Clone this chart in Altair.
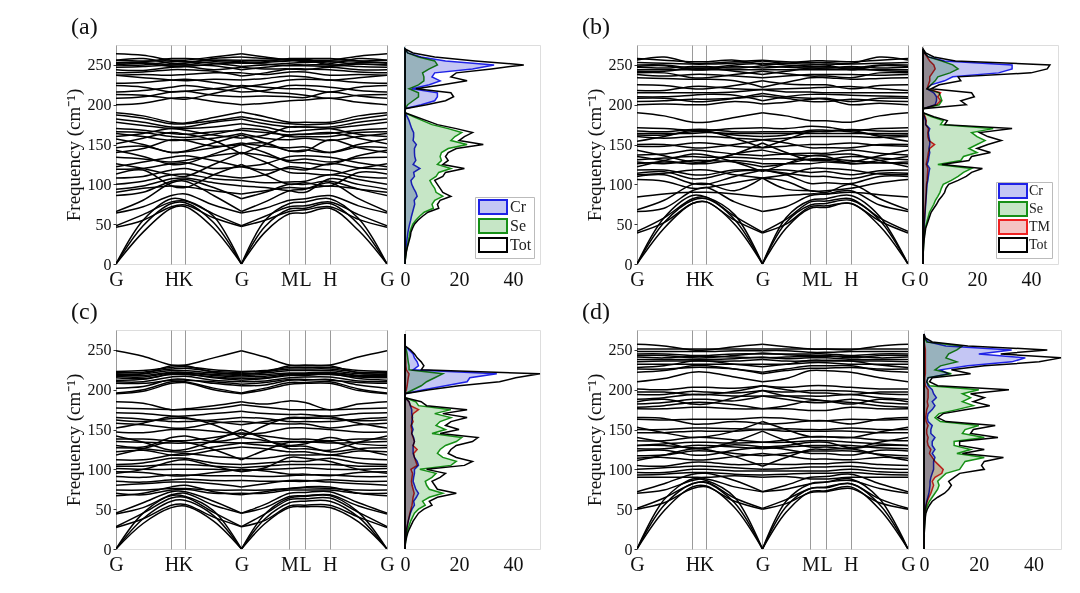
import altair as alt
import pandas as pd

FONT = "Liberation Serif"

# k-path sample positions (G, mid, H, K, mid, G, mid, M, L, H, mid, G)
K_POS = [0.0, 0.1, 0.2045, 0.256, 0.36, 0.463, 0.55, 0.64, 0.698, 0.789, 0.895, 1.0]
TICK_POS = [0.0, 0.2045, 0.256, 0.463, 0.64, 0.698, 0.789, 1.0]
TICK_NAMES = ["G", "H", "K", "G", "M", "L", "H", "G"]
FREQ_TICKS = [0, 50, 100, 150, 200, 250]
DOS_TICKS = [0, 20, 40]
DOS_FREQ = list(range(0, 275, 5))

# ---------------- phonon bands (cm-1) ----------------
bands_a = [
    [0, 40, 70, 72, 45, 0, 40, 63, 64, 70, 42, 0],
    [0, 48, 76, 77, 52, 0, 47, 69, 70, 76, 50, 0],
    [0, 55, 82, 80, 60, 0, 55, 76, 78, 82, 57, 0],
    [46, 55, 72, 74, 58, 47, 55, 66, 68, 72, 56, 46],
    [48, 62, 78, 79, 63, 48, 60, 72, 73, 78, 62, 48],
    [64, 72, 86, 88, 74, 64, 70, 80, 82, 86, 73, 64],
    [66, 80, 102, 104, 86, 66, 78, 92, 94, 102, 82, 66],
    [86, 90, 104, 106, 96, 82, 90, 100, 100, 104, 94, 86],
    [94, 98, 107, 108, 102, 98, 96, 92, 90, 107, 100, 94],
    [100, 104, 112, 113, 107, 105, 102, 103, 104, 112, 106, 100],
    [113, 118, 98, 96, 112, 125, 112, 100, 102, 98, 115, 113],
    [119, 120, 126, 127, 120, 122, 118, 120, 118, 126, 121, 119],
    [126, 120, 112, 110, 125, 140, 128, 115, 114, 112, 120, 126],
    [134, 132, 128, 130, 136, 140, 136, 130, 132, 128, 133, 134],
    [143, 135, 125, 126, 138, 150, 140, 128, 127, 125, 136, 143],
    [151, 158, 165, 163, 155, 138, 150, 162, 163, 165, 158, 151],
    [157, 150, 140, 142, 152, 162, 152, 142, 143, 140, 150, 157],
    [164, 160, 155, 156, 158, 164, 158, 156, 158, 155, 160, 164],
    [170, 168, 164, 163, 166, 168, 165, 162, 163, 164, 168, 170],
    [178, 174, 170, 170, 172, 176, 172, 166, 168, 170, 174, 178],
    [187, 183, 176, 176, 180, 185, 180, 176, 175, 176, 182, 187],
    [190, 186, 178, 177, 184, 191, 185, 178, 178, 178, 186, 190],
    [140, 145, 156, 155, 148, 150, 152, 142, 142, 156, 146, 140],
    [122, 128, 134, 136, 130, 122, 126, 135, 136, 134, 127, 122],
    [160, 164, 170, 168, 162, 158, 162, 172, 172, 170, 163, 160],
    [90, 95, 98, 97, 92, 88, 92, 96, 95, 98, 94, 90],
    [108, 110, 118, 120, 112, 108, 112, 122, 120, 118, 110, 108],
    [146, 148, 140, 141, 146, 152, 148, 146, 147, 140, 147, 146],
    [166, 165, 160, 159, 163, 170, 168, 160, 160, 160, 165, 166],
    [182, 178, 172, 172, 178, 182, 176, 172, 172, 172, 178, 182],
    [200, 202, 208, 209, 204, 200, 202, 205, 206, 208, 203, 200],
    [208, 210, 216, 217, 212, 210, 211, 210, 209, 216, 211, 208],
    [213, 212, 208, 207, 214, 222, 216, 214, 212, 208, 212, 213],
    [224, 222, 216, 217, 220, 224, 222, 220, 220, 216, 222, 224],
    [227, 228, 231, 232, 228, 222, 226, 231, 232, 231, 228, 227],
    [237, 234, 231, 230, 232, 231, 233, 236, 235, 231, 234, 237],
    [237, 238, 237, 238, 240, 240, 238, 241, 241, 237, 238, 237],
    [244, 243, 247, 248, 244, 247, 245, 245, 244, 247, 244, 244],
    [247, 248, 250, 250, 249, 244, 247, 250, 250, 250, 248, 247],
    [250, 250, 254, 254, 252, 248, 250, 252, 253, 254, 251, 250],
    [253, 253, 250, 250, 254, 252, 253, 255, 256, 250, 253, 253],
    [256, 255, 255, 254, 256, 256, 256, 256, 254, 255, 255, 256],
    [256, 258, 252, 252, 258, 260, 258, 257, 257, 252, 258, 256],
    [264, 262, 256, 256, 260, 264, 260, 256, 256, 256, 261, 264],
    [252, 254, 258, 258, 256, 254, 254, 258, 258, 258, 255, 252],
    [216, 218, 222, 224, 220, 216, 218, 224, 224, 222, 218, 216],
    [240, 241, 244, 244, 242, 236, 240, 245, 245, 244, 241, 240],
    [250, 252, 248, 248, 251, 253, 251, 249, 249, 248, 251, 250],
]

bands_b = [
    [0, 45, 76, 78, 50, 0, 45, 70, 71, 76, 48, 0],
    [0, 52, 80, 82, 56, 0, 52, 74, 76, 80, 55, 0],
    [0, 58, 86, 84, 62, 0, 58, 80, 82, 86, 60, 0],
    [39, 52, 76, 78, 55, 39, 50, 72, 73, 76, 54, 39],
    [41, 58, 82, 84, 60, 40, 56, 78, 79, 82, 58, 41],
    [66, 70, 92, 96, 78, 66, 72, 86, 88, 92, 74, 66],
    [68, 80, 100, 101, 92, 108, 94, 92, 90, 100, 82, 68],
    [106, 104, 95, 96, 102, 108, 104, 92, 92, 95, 102, 106],
    [110, 112, 101, 100, 110, 118, 112, 101, 102, 101, 110, 110],
    [114, 116, 107, 108, 116, 118, 114, 110, 110, 107, 114, 114],
    [118, 118, 112, 112, 118, 118, 118, 115, 116, 112, 117, 118],
    [122, 130, 138, 137, 128, 116, 126, 136, 137, 138, 130, 122],
    [126, 128, 126, 126, 130, 126, 126, 126, 128, 126, 127, 126],
    [131, 133, 135, 134, 134, 132, 132, 131, 131, 135, 133, 131],
    [137, 138, 143, 142, 138, 136, 138, 139, 139, 143, 139, 137],
    [143, 136, 128, 129, 138, 152, 140, 130, 130, 128, 136, 143],
    [148, 148, 152, 152, 148, 146, 148, 150, 150, 152, 149, 148],
    [154, 160, 168, 167, 158, 146, 156, 166, 166, 168, 160, 154],
    [160, 158, 160, 160, 158, 156, 158, 160, 160, 160, 159, 160],
    [164, 164, 164, 165, 164, 164, 164, 164, 164, 164, 164, 164],
    [167, 166, 169, 169, 166, 166, 166, 166, 167, 169, 167, 167],
    [171, 170, 168, 168, 170, 171, 170, 173, 172, 168, 170, 171],
    [190, 186, 178, 178, 184, 190, 186, 180, 180, 178, 186, 190],
    [135, 130, 126, 128, 138, 143, 138, 136, 135, 126, 130, 135],
    [84, 88, 90, 90, 88, 84, 86, 88, 88, 90, 87, 84],
    [112, 114, 118, 118, 112, 108, 112, 120, 120, 118, 113, 112],
    [128, 126, 130, 130, 128, 122, 126, 132, 132, 130, 127, 128],
    [150, 150, 146, 146, 150, 156, 152, 146, 146, 146, 150, 150],
    [162, 162, 166, 166, 162, 160, 162, 168, 168, 166, 162, 162],
    [200, 201, 200, 200, 204, 201, 203, 207, 207, 200, 202, 200],
    [204, 205, 207, 207, 208, 211, 208, 204, 204, 207, 205, 204],
    [210, 210, 212, 213, 212, 205, 210, 213, 213, 212, 211, 210],
    [215, 215, 215, 215, 216, 219, 216, 216, 215, 215, 215, 215],
    [218, 218, 223, 223, 220, 219, 220, 221, 222, 223, 220, 218],
    [225, 224, 220, 220, 224, 230, 226, 225, 225, 220, 224, 225],
    [234, 233, 232, 232, 230, 222, 228, 234, 234, 232, 233, 234],
    [238, 236, 238, 238, 236, 234, 236, 238, 238, 238, 237, 238],
    [240, 240, 234, 234, 238, 242, 239, 236, 236, 234, 240, 240],
    [244, 244, 244, 244, 244, 244, 244, 244, 244, 244, 244, 244],
    [247, 246, 248, 248, 246, 249, 247, 246, 246, 248, 246, 247],
    [250, 250, 246, 246, 250, 252, 250, 248, 248, 246, 250, 250],
    [253, 252, 251, 251, 252, 255, 252, 251, 251, 251, 252, 253],
    [256, 260, 252, 252, 254, 256, 254, 253, 253, 252, 260, 256],
    [258, 256, 254, 254, 256, 250, 252, 255, 255, 254, 256, 258],
    [208, 208, 204, 204, 208, 214, 210, 208, 208, 204, 208, 208],
    [242, 242, 246, 246, 242, 238, 242, 246, 246, 246, 243, 242],
    [248, 249, 244, 244, 248, 246, 248, 250, 250, 244, 249, 248],
]

bands_c = [
    [0, 32, 52, 54, 35, 0, 32, 52, 53, 52, 34, 0],
    [0, 38, 60, 61, 42, 0, 38, 58, 60, 60, 40, 0],
    [0, 45, 67, 66, 48, 0, 44, 64, 66, 67, 46, 0],
    [27, 38, 55, 56, 40, 28, 36, 54, 55, 55, 40, 27],
    [28, 45, 64, 65, 46, 28, 44, 62, 63, 64, 46, 28],
    [44, 52, 68, 70, 55, 45, 52, 66, 67, 68, 54, 44],
    [45, 58, 72, 72, 60, 45, 56, 70, 71, 72, 58, 45],
    [70, 68, 74, 75, 70, 70, 70, 74, 74, 74, 70, 70],
    [74, 74, 76, 76, 74, 74, 74, 76, 77, 76, 74, 74],
    [67, 70, 78, 80, 72, 68, 72, 76, 78, 78, 70, 67],
    [85, 84, 87, 88, 86, 86, 85, 85, 85, 87, 85, 85],
    [91, 90, 93, 93, 92, 92, 91, 92, 93, 93, 91, 91],
    [101, 100, 100, 100, 100, 98, 100, 101, 102, 100, 100, 101],
    [104, 104, 106, 106, 104, 102, 104, 106, 106, 106, 104, 104],
    [106, 108, 114, 114, 108, 106, 108, 110, 110, 114, 108, 106],
    [112, 112, 118, 120, 116, 114, 114, 118, 118, 118, 114, 112],
    [118, 126, 135, 134, 125, 112, 124, 134, 134, 135, 126, 118],
    [127, 126, 122, 122, 128, 133, 130, 129, 129, 122, 126, 127],
    [135, 134, 133, 133, 134, 133, 134, 135, 135, 133, 134, 135],
    [142, 134, 124, 125, 136, 150, 138, 126, 126, 124, 134, 142],
    [152, 158, 166, 165, 156, 140, 155, 165, 165, 166, 158, 152],
    [158, 156, 152, 152, 158, 160, 158, 157, 157, 152, 156, 158],
    [165, 163, 160, 160, 162, 165, 164, 160, 160, 160, 163, 165],
    [171, 170, 167, 167, 170, 173, 170, 169, 169, 167, 170, 171],
    [177, 176, 175, 175, 176, 181, 178, 175, 175, 175, 176, 177],
    [185, 183, 175, 176, 180, 185, 182, 186, 184, 175, 182, 185],
    [95, 100, 110, 112, 104, 97, 102, 115, 114, 110, 100, 95],
    [130, 128, 140, 142, 135, 140, 136, 130, 132, 140, 132, 130],
    [80, 82, 84, 84, 82, 78, 82, 86, 86, 84, 82, 80],
    [97, 96, 92, 92, 96, 100, 98, 94, 94, 92, 96, 97],
    [122, 124, 118, 118, 124, 128, 126, 122, 122, 118, 123, 122],
    [138, 138, 136, 136, 140, 146, 142, 138, 138, 136, 138, 138],
    [147, 146, 150, 150, 148, 144, 146, 152, 152, 150, 147, 147],
    [162, 160, 164, 164, 160, 156, 160, 164, 164, 164, 161, 162],
    [195, 198, 208, 209, 200, 195, 200, 207, 208, 208, 199, 195],
    [196, 200, 210, 210, 202, 196, 202, 209, 209, 210, 201, 196],
    [202, 204, 213, 213, 208, 205, 206, 212, 212, 213, 206, 202],
    [210, 210, 216, 217, 212, 210, 211, 215, 216, 216, 211, 210],
    [215, 214, 219, 219, 216, 214, 215, 219, 219, 219, 216, 215],
    [218, 218, 222, 222, 219, 218, 219, 221, 221, 222, 218, 218],
    [220, 220, 224, 224, 221, 220, 221, 224, 224, 224, 220, 220],
    [222, 222, 226, 227, 223, 222, 223, 226, 226, 226, 222, 222],
    [223, 224, 228, 229, 225, 223, 224, 228, 228, 228, 224, 223],
    [219, 220, 230, 230, 222, 219, 222, 230, 230, 230, 221, 219],
    [249, 242, 231, 231, 240, 249, 241, 231, 231, 231, 241, 249],
    [212, 213, 220, 220, 215, 212, 214, 218, 218, 220, 214, 212],
    [217, 216, 221, 221, 218, 216, 217, 220, 220, 221, 217, 217],
    [208, 208, 212, 212, 210, 207, 209, 213, 213, 212, 209, 208],
]

bands_d = [
    [0, 48, 78, 79, 52, 0, 46, 72, 73, 78, 50, 0],
    [0, 55, 82, 83, 58, 0, 53, 76, 77, 82, 56, 0],
    [0, 62, 88, 86, 65, 0, 60, 82, 84, 88, 63, 0],
    [50, 58, 76, 78, 60, 50, 57, 71, 72, 76, 58, 50],
    [51, 64, 82, 84, 64, 51, 62, 76, 78, 82, 63, 51],
    [70, 74, 86, 88, 78, 72, 75, 82, 84, 86, 76, 70],
    [72, 82, 94, 95, 86, 72, 80, 90, 91, 94, 82, 72],
    [90, 90, 90, 90, 92, 90, 91, 88, 88, 90, 90, 90],
    [96, 96, 100, 100, 98, 98, 98, 98, 98, 100, 97, 96],
    [105, 104, 109, 109, 106, 107, 106, 107, 107, 109, 106, 105],
    [111, 118, 126, 125, 116, 104, 115, 125, 125, 126, 118, 111],
    [117, 118, 123, 123, 120, 117, 120, 123, 123, 123, 119, 117],
    [123, 124, 118, 118, 124, 128, 125, 120, 120, 118, 124, 123],
    [130, 130, 127, 127, 131, 128, 130, 134, 134, 127, 130, 130],
    [130, 132, 134, 134, 133, 134, 134, 136, 136, 134, 132, 130],
    [140, 134, 126, 127, 135, 148, 136, 128, 128, 126, 134, 140],
    [146, 146, 148, 148, 148, 150, 148, 148, 148, 148, 146, 146],
    [153, 146, 140, 141, 148, 160, 150, 141, 141, 140, 147, 153],
    [163, 162, 163, 163, 163, 165, 164, 161, 161, 163, 162, 163],
    [176, 176, 178, 178, 176, 176, 176, 174, 174, 178, 176, 176],
    [182, 184, 188, 188, 186, 192, 188, 184, 184, 188, 184, 182],
    [188, 190, 194, 194, 192, 192, 192, 192, 192, 194, 190, 188],
    [194, 194, 198, 197, 196, 199, 197, 199, 199, 198, 195, 194],
    [201, 200, 203, 203, 202, 205, 203, 205, 205, 203, 201, 201],
    [185, 188, 182, 182, 190, 199, 192, 188, 186, 182, 188, 185],
    [165, 164, 157, 157, 160, 157, 158, 161, 161, 157, 163, 165],
    [93, 94, 96, 96, 94, 93, 94, 95, 95, 96, 94, 93],
    [100, 102, 104, 104, 102, 100, 101, 103, 103, 104, 101, 100],
    [114, 115, 112, 112, 116, 120, 117, 113, 113, 112, 115, 114],
    [126, 126, 130, 130, 128, 126, 128, 130, 130, 130, 127, 126],
    [136, 136, 140, 140, 137, 134, 137, 141, 141, 140, 137, 136],
    [150, 150, 152, 152, 151, 150, 151, 150, 150, 152, 150, 150],
    [178, 180, 184, 184, 181, 176, 180, 186, 186, 184, 180, 178],
    [197, 197, 194, 194, 198, 205, 200, 196, 196, 194, 197, 197],
    [210, 214, 222, 222, 216, 210, 214, 224, 224, 222, 215, 210],
    [226, 226, 228, 228, 226, 220, 224, 227, 227, 228, 226, 226],
    [232, 232, 232, 232, 232, 232, 232, 234, 234, 232, 232, 232],
    [235, 236, 236, 236, 236, 238, 236, 236, 236, 236, 236, 235],
    [238, 238, 238, 238, 239, 241, 239, 240, 240, 238, 238, 238],
    [241, 240, 242, 242, 241, 240, 241, 242, 242, 242, 240, 241],
    [245, 245, 243, 243, 245, 245, 245, 245, 245, 243, 245, 245],
    [248, 248, 248, 248, 249, 249, 249, 247, 247, 248, 248, 248],
    [251, 251, 251, 251, 251, 251, 251, 251, 251, 251, 251, 251],
    [257, 255, 250, 250, 254, 257, 254, 251, 251, 250, 255, 257],
    [228, 230, 236, 236, 232, 229, 232, 237, 237, 236, 231, 228],
    [243, 243, 240, 240, 243, 246, 244, 243, 243, 240, 243, 243],
    [222, 224, 230, 230, 226, 222, 226, 230, 230, 230, 224, 222],
]

# ---------------- projected DOS (freq grid 0..270 step 5) ----------------
tot_a = [0, .1, .3, .5, .8, 1.2, 1.6, 2, 2.2, 2.8, 3.5,
         4.8, 6.5, 8.5, 12.5, 12, 13, 17, 14, 13, 12, 11,
         14, 15, 22, 14, 16, 15, 16, 19, 29, 20, 22,
         25, 19, 12, 8, 4, 0, 0, 8, 15, 18, 17,
         4, 14, 23, 17, 19, 32, 44, 26, 11, 3, 0]
se_a = [0, .1, .25, .4, .7, 1, 1.3, 1.6, 1.8, 2.3, 2.9,
        4, 5.4, 7.1, 10.5, 10, 11, 14, 11.5, 11, 10, 9.2,
        11.5, 12.5, 17, 12, 13.5, 13, 13.5, 16, 23, 17, 18.5,
        21, 16, 10, 6.5, 3, 0, 0, 1, 3, 5, 5,
        1.5, 5, 7, 7, 6.5, 9, 12, 11, 5, 1, 0]
cr_a = [0, 0, .1, .2, .3, .5, .7, .9, 1.1, 1.4, 1.7,
        2.1, 2.4, 2.8, 3.2, 3.6, 3.4, 4.5, 4, 3.2, 2.5, 2.2,
        3.5, 3.2, 5.5, 3, 4, 3.6, 3.5, 3.5, 4.2, 3, 3.2,
        3.2, 2.5, 2, 1.5, .8, 0, 0, 6, 11, 12, 12,
        2.5, 9, 13, 10, 11, 25, 33, 15, 6, 1, 0]

tot_b = [0, 0, .1, .1, .2, .3, .4, .6, .8, 1, 1.5,
         2, 2.5, 3, 4, 5, 5.8, 7, 8, 8.5, 9.5, 13,
         16, 18, 22, 7, 17, 18, 25, 20, 24, 29, 24,
         21, 33, 8, 9, 4, 0, 0, 16, 14, 19, 18,
         3, 6, 14, 13, 40, 46, 47, 12, 4, 1, 0]
se_b = [0, 0, .05, .1, .15, .2, .3, .45, .6, .8, 1.2,
        1.6, 2, 2.4, 3.2, 4, 4.6, 5.5, 6.3, 6.8, 7.5, 10.5,
        13, 15, 18, 5.5, 14, 15, 20, 17, 20, 23, 20,
        18, 26, 6.5, 7.5, 3, 0, 0, 6, 7, 6.5, 6,
        1.5, 3, 4.5, 5.5, 10, 13, 11, 7, 2, .5, 0]
cr_b = [0, 0, 0, 0, .05, .1, .15, .2, .3, .4, .5,
        .6, .7, .8, .9, 1, 1.1, 1.2, 1.3, 1.4, 1.5, 1.8,
        2, 2.2, 2.5, 1.5, 2, 2.2, 2.5, 2.2, 2.5, 2.5, 2.2,
        2, 2.5, 1, 1, .5, 0, 0, 4.5, 5, 5, 4,
        1.5, 3, 8, 11, 28, 33, 33, 8, 2, .5, 0]
tm_b = [0, 0, 0, 0, .05, .1, .15, .2, .3, .35, .4,
        .5, .6, .7, .8, .9, 1, 1.1, 1.2, 1.2, 1.3, 1.5,
        1.6, 1.7, 1.8, 1.2, 1.5, 1.8, 2, 2.5, 4.3, 2.2, 1.8,
        1.8, 2, 1, 1.2, .8, 0, 0, 5, 6.5, 5.5, 6.5,
        1.5, 2, 2.5, 2.5, 3.5, 4.5, 4, 2.5, 1.5, .5, 0]

tot_c = [0, .1, .3, .6, 1, 1.6, 2.3, 3, 4, 5, 7,
         10, 9, 12, 19, 12, 11, 10, 13, 15, 8, 22,
         25, 19, 16, 17, 19, 25, 27, 13, 20, 15, 17,
         23, 14, 23, 8, 6, 0, 0, 9, 20, 35, 41,
         55, 6, 7, 6, 4.5, 3.5, 2, 0, 0, 0, 0]
se_c = [0, .05, .2, .4, .7, 1.1, 1.6, 2.1, 2.8, 3.5, 5,
        7.5, 6.5, 9, 14, 9, 8, 7.5, 10, 11.5, 5.5, 17,
        19, 14, 12, 13, 15, 19, 21, 10, 15, 11.5, 13,
        17, 11, 17, 5, 4, 0, 0, 3, 6, 8, 11,
        14, 1.5, 1.5, 1.2, 1, .8, .5, 0, 0, 0, 0]
cr_c = [0, 0, .1, .2, .35, .6, .9, 1.2, 1.6, 2, 2.6,
        3.5, 3.2, 4.2, 5, 4, 3.5, 3, 3.2, 3.5, 3.5, 5,
        4.5, 3.5, 3, 3, 3, 3.5, 3.2, 2.5, 3, 2.5, 2.5,
        2.8, 2.5, 2.5, 2, 1.5, 0, 0, 7, 15, 23, 24,
        34, 3, 5, 4.5, 3.5, 3, 1.5, 0, 0, 0, 0]
tm_c = [0, 0, .1, .2, .4, .6, .9, 1.2, 1.5, 1.8, 2.2,
        2.6, 2.8, 3, 3.4, 3, 2.6, 2.4, 2.6, 2.8, 2.2, 4.5,
        4, 3.5, 3.2, 4.5, 3, 3.5, 3, 2.5, 2.5, 2.2, 3,
        2.5, 3, 5, 2, 1.5, 0, 0, .5, .8, 1, 1.2,
        1.5, .5, .3, .3, .2, .2, .1, 0, 0, 0, 0]

tot_d = [0, 0, 0, .1, .1, .2, .3, .4, .5, .7, 1.2,
         2, 3, 5, 7.5, 9, 10, 9, 11, 13, 22, 21,
         22, 29, 14, 22, 13, 13, 27, 17, 18, 26, 8,
         5, 7, 15, 24, 18, 22, 17, 31, 5, 2, 3,
         17, 10, 22, 42, 55, 28, 45, 16, 3, .5, 0]
se_d = [0, 0, 0, 0, .05, .1, .15, .2, .3, .4, .8,
        1.3, 2, 3, 4, 5, 5.5, 5, 6.5, 8, 13, 14,
        15, 22, 12, 17, 11, 11, 22, 14, 15, 20, 6,
        4, 5.5, 12, 18, 14, 17, 14, 20, 2, 1, 1.5,
        10, 4, 6, 12, 8, 9, 12, 14, 1, .2, 0]
cr_d = [0, 0, 0, 0, 0, .05, .05, .1, .1, .2, .4,
        .7, 1, 1.4, 1.8, 2, 2.2, 2.2, 2.5, 3, 3.5, 3.5,
        3.5, 4, 3, 4, 3, 3, 4, 2.5, 2.5, 3, 1.5,
        1.2, 1.5, 3, 4, 3, 4.5, 3.5, 3, 1.5, 1, 1.5,
        9, 6, 16, 32, 37, 20, 32, 8, 1.5, .3, 0]
tm_d = [0, 0, 0, 0, 0, .05, .1, .1, .2, .3, .5,
        .8, 1.2, 1.8, 2.5, 3, 3.5, 3, 4, 6.5, 7, 5.5,
        4, 3, 2, 2.5, 1.5, 1.2, 1.5, 1, 1, 1.5, .8,
        .6, .8, 1, 1.5, 1.2, 1.5, 1.5, 1.5, .5, .3, .3,
        .5, .5, .5, .5, .5, .5, .5, .3, .1, 0, 0]

SERIES_FILL = {"Cr": "#c4c6f4", "Se": "#c6e6c6", "TM": "#f4c4c4", "Tot": "transparent"}
SERIES_LINE = {"Cr": "#1f22e6", "Se": "#169016", "TM": "#ee2222", "Tot": "#000000"}

label_expr = "''"
for p, n in reversed(list(zip(TICK_POS, TICK_NAMES))):
    label_expr = f"abs(datum.value - {p}) < 0.002 ? '{n}' : ({label_expr})"


def band_frame(bands):
    rows = []
    for i, b in enumerate(bands):
        for seg, idx in (("1", range(0, 6)), ("2", range(5, 12))):
            for j in idx:
                rows.append({"k": K_POS[j], "freq": b[j], "id": f"{i}-{seg}"})
    return pd.DataFrame(rows)


def band_chart(bands, label, dx):
    df = band_frame(bands)
    return alt.Chart(df).mark_line(
        color="black", strokeWidth=1.5, interpolate="catmull-rom", clip=True
    ).encode(
        x=alt.X("k:Q", scale=alt.Scale(domain=[0, 1], nice=False, zero=False),
                axis=alt.Axis(values=TICK_POS, labelExpr=label_expr, title=None,
                              grid=True, gridColor="#9a9a9a", gridWidth=1,
                              ticks=False, domain=False, labelFontSize=20,
                              labelFont=FONT, labelColor="#111", labelPadding=5,
                              labelOverlap=False, labelFlush=False)),
        y=alt.Y("freq:Q", scale=alt.Scale(domain=[0, 275], nice=False, zero=True),
                axis=alt.Axis(values=FREQ_TICKS, title="Frequency (cm⁻¹)",
                              titleFont=FONT, titleFontSize=19,
                              titleFontWeight="normal", titleColor="#111",
                              titlePadding=4, labelFont=FONT, labelFontSize=16,
                              labelColor="#111", labelPadding=2, tickSize=3,
                              tickColor="#333", domain=False, grid=False)),
        detail="id:N",
    ).properties(
        width=271, height=219,
        title=alt.TitleParams(label, anchor="start", frame="bounds", font=FONT,
                              fontSize=24, fontWeight="normal", color="#111",
                              dx=dx, offset=6),
    )


def dos_chart(series, width, legend_font=None):
    rows = []
    for name, vals in series.items():
        for f, v in zip(DOS_FREQ, vals):
            rows.append({"freq": f, "val": v, "series": name})
    df = pd.DataFrame(rows)
    names = list(series.keys())
    if legend_font:
        leg = alt.Legend(title=None, orient="bottom-right", offset=6, padding=2,
                         symbolType="M-2.8,-1.4H2.8V1.4H-2.8Z", symbolSize=100,
                         symbolOffset=8, symbolStrokeWidth=2, labelFont=FONT,
                         labelFontSize=legend_font, labelOffset=9, rowPadding=-12,
                         strokeColor="#bbbbbb", fillColor="white", labelColor="#222")
    else:
        leg = None
    return alt.Chart(df).mark_area(
        orient="horizontal", strokeWidth=1.5, blend="multiply",
        interpolate="linear",
    ).encode(
        y=alt.Y("freq:Q", scale=alt.Scale(domain=[0, 275], nice=False), axis=None),
        x=alt.X("val:Q", stack=None,
                scale=alt.Scale(domain=[0, 50], nice=False, clamp=True),
                axis=alt.Axis(values=DOS_TICKS, title=None, grid=False, ticks=False,
                              domain=False, labelFont=FONT, labelFontSize=20,
                              labelColor="#111", labelPadding=5, labelFlush=False)),
        fill=alt.Fill("series:N", scale=alt.Scale(domain=names, range=[SERIES_FILL[n] for n in names]), legend=leg),
        stroke=alt.Stroke("series:N", scale=alt.Scale(domain=names, range=[SERIES_LINE[n] for n in names]), legend=leg),
    ).properties(width=width, height=219)


dos_a = {"Cr": cr_a, "Se": se_a, "Tot": tot_a}
dos_b = {"Cr": cr_b, "Se": se_b, "TM": tm_b, "Tot": tot_b}
dos_c = {"Cr": cr_c, "Se": se_c, "TM": tm_c, "Tot": tot_c}
dos_d = {"Cr": cr_d, "Se": se_d, "TM": tm_d, "Tot": tot_d}


def pair(band, dos, spacing):
    return alt.hconcat(band, dos, spacing=spacing, bounds="flush").resolve_scale(
        fill="independent", stroke="independent")


row1 = alt.hconcat(
    pair(band_chart(bands_a, "(a)", 7), dos_chart(dos_a, 135, 16), 18),
    pair(band_chart(bands_b, "(b)", -3), dos_chart(dos_b, 135, 14), 15),
    spacing=40,
).resolve_scale(fill="independent", stroke="independent")

row2 = alt.hconcat(
    pair(band_chart(bands_c, "(c)", 7), dos_chart(dos_c, 135), 18),
    pair(band_chart(bands_d, "(d)", -3), dos_chart(dos_d, 137), 16),
    spacing=37,
).resolve_scale(fill="independent", stroke="independent")

chart = alt.vconcat(row1, row2, spacing=9).resolve_scale(
    fill="independent", stroke="independent"
).properties(
    padding={"left": 55, "top": 6, "right": 5, "bottom": 5}
).configure_view(
    stroke="#333333", strokeWidth=1
).configure(background="white")

chart.save("out.html", embed_options={"renderer": "svg", "actions": False})
